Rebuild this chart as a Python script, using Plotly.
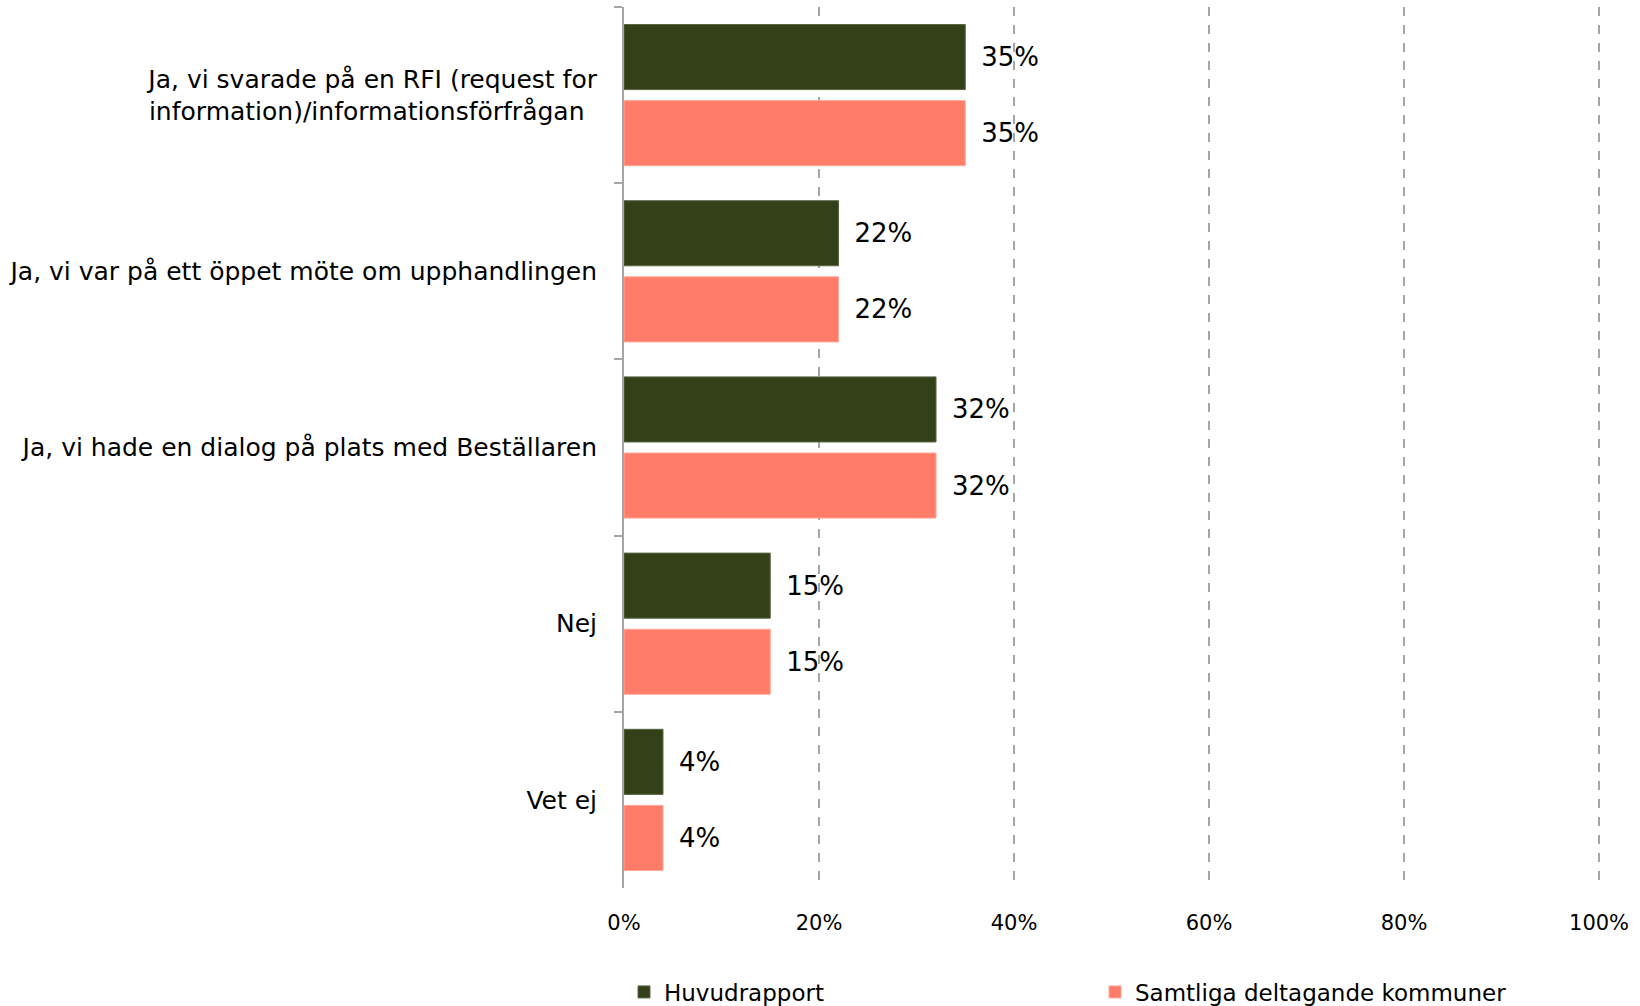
import plotly.graph_objects as go

# Survey answers (top to bottom) and shares per series
categories = [
    "Ja, vi svarade på en RFI (request for<br>information)/informationsförfrågan\u2002",
    "Ja, vi var på ett öppet möte om upphandlingen",
    "Ja, vi hade en dialog på plats med Beställaren",
    "Nej",
    "Vet ej",
]
huvudrapport = [0.35, 0.22, 0.32, 0.15, 0.04]
samtliga = [0.35, 0.22, 0.32, 0.15, 0.04]
series_names = ["Huvudrapport", "Samtliga deltagande kommuner"]
x_ticks = [0, 0.2, 0.4, 0.6, 0.8, 1.0]
x_tick_labels = ["0%", "20%", "40%", "60%", "80%", "100%"]

FONT = "DejaVu Sans"
GREEN = "#344118"
PINK = "#FF7C68"

fig = go.Figure()
for name, vals, color, edge in [
    (series_names[0], huvudrapport, GREEN, "#5b6445"),
    (series_names[1], samtliga, PINK, "#ffa898"),
]:
    fig.add_trace(go.Bar(
        y=categories,
        x=vals,
        orientation="h",
        name=name,
        marker=dict(color=color, line=dict(color=edge, width=1)),
        text=[f"{v * 100:.0f}%" for v in vals],
        texttemplate="\u2002%{text}",
        textposition="outside",
        cliponaxis=False,
        textfont=dict(family=FONT, size=26, color="#000000"),
    ))

fig.update_layout(
    width=1640,
    height=1006,
    barmode="group",
    bargap=0.136,
    bargroupgap=0.145,
    plot_bgcolor="white",
    paper_bgcolor="white",
    margin=dict(l=624, r=39, t=7, b=118, autoexpand=False),
    font=dict(family=FONT, color="#000000"),
    xaxis=dict(
        range=[0, 1.002],
        tickvals=x_ticks,
        ticktext=x_tick_labels,
        tickfont=dict(family=FONT, size=21, color="#000000"),
        showgrid=True,
        gridcolor="#a6a6a6",
        griddash="dash",
        gridwidth=1.5,
        zeroline=False,
        showline=False,
        ticks="",
        ticklabelstandoff=20,
    ),
    yaxis=dict(
        autorange="reversed",
        showline=True,
        linecolor="#a6a6a6",
        linewidth=2,
        ticks="outside",
        tickson="boundaries",
        ticklen=8,
        tickcolor="#a6a6a6",
        tickwidth=2,
        tickfont=dict(family=FONT, size=25, color="#000000"),
        ticklabelstandoff=20,
        showgrid=False,
    ),
    legend=dict(
        orientation="h",
        x=0.0,
        xanchor="left",
        y=-0.118,
        yanchor="middle",
        font=dict(family=FONT, size=23, color="#000000"),
        entrywidthmode="pixels",
        entrywidth=426,
        traceorder="normal",
    ),
)

fig.write_html("out.html")
